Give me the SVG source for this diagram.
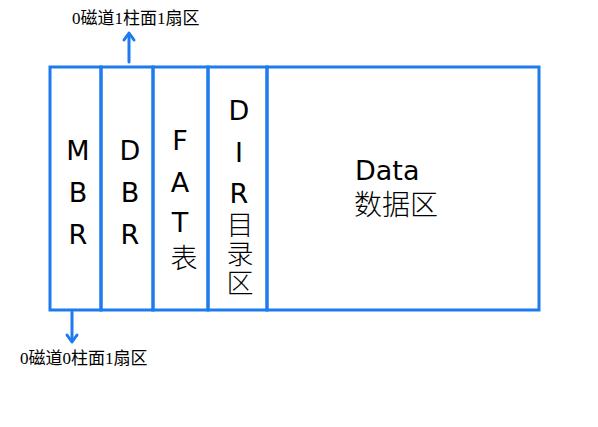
<svg xmlns="http://www.w3.org/2000/svg" width="598" height="427" viewBox="0 0 598 427">
<style>
.box{fill:none;stroke:#1E7BEF;stroke-width:3}
.arr{fill:none;stroke:#1E7BEF;stroke-width:3;stroke-linecap:round;stroke-linejoin:round}
.lat{font-family:"DejaVu Sans","Noto Sans CJK SC",sans-serif;font-size:27px;fill:#000;text-anchor:middle}
.cjk{font-family:"Noto Sans CJK SC",sans-serif;font-size:25px;font-weight:300;fill:#000;text-anchor:middle}
.vert{font-family:"Noto Sans CJK SC",sans-serif;font-size:27px;font-weight:300;fill:#000;writing-mode:vertical-rl;text-orientation:upright;letter-spacing:2px}
.lbl{font-family:"Liberation Serif","Noto Sans CJK SC",serif;font-size:17px;fill:#000}
</style>
<rect width="598" height="427" fill="#ffffff"/>
<g id="connectors">
<g id="arrow-top"><line class="arr" x1="129" y1="62" x2="129" y2="34"/><polyline class="arr" points="124,40 129,33 134,40"/></g>
<g id="arrow-bottom"><line class="arr" x1="72" y1="312" x2="72" y2="341"/><polyline class="arr" points="67,335 72,342 77,335"/></g>
</g>
<g id="mbr"><rect class="box" x="50" y="67" width="51" height="243"/>
<text class="lat" x="78" y="160">M</text><text class="lat" x="78" y="202">B</text><text class="lat" x="78" y="244">R</text></g>
<g id="dbr"><rect class="box" x="101" y="67" width="52" height="243"/>
<text class="lat" x="130" y="160">D</text><text class="lat" x="130" y="202">B</text><text class="lat" x="130" y="244">R</text></g>
<g id="fat"><rect class="box" x="153" y="67" width="55" height="243"/>
<text class="lat" x="180" y="150">F</text><text class="lat" x="180" y="192">A</text><text class="lat" x="180" y="232">T</text><text class="cjk" x="184" y="268" style="font-size:27px">表</text></g>
<g id="dir"><rect class="box" x="208" y="67" width="59" height="243"/>
<text class="lat" x="239" y="120">D</text><text class="lat" x="239" y="162">I</text><text class="lat" x="239" y="203">R</text><text class="vert" x="240" y="211">目录区</text></g>
<g id="data"><rect class="box" x="267" y="67" width="272" height="243"/>
<text class="lat" x="355" y="180" style="text-anchor:start">Data</text><text class="cjk" x="354" y="215" style="text-anchor:start;font-size:28px">数据区</text></g>
<g id="label-top"><text class="lbl" x="72" y="24">0磁道1柱面1扇区</text></g>
<g id="label-bottom"><text class="lbl" x="20" y="364">0磁道0柱面1扇区</text></g>
</svg>
